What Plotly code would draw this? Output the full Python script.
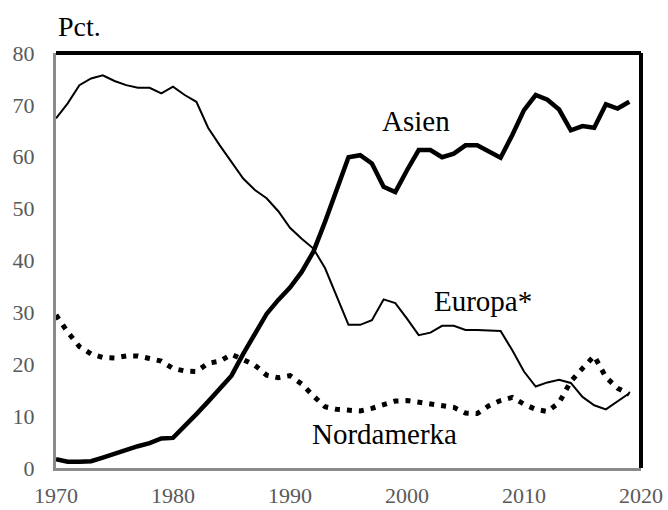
import plotly.graph_objects as go

years = list(range(1970, 2020))

asien = [1.7, 1.2, 1.2, 1.3, 2.0, 2.8, 3.6, 4.2, 4.8, 5.7,
         5.8, 8.0, 10.4, 12.8, 15.3, 17.8, 22.0, 25.8, 29.7, 32.4,
         34.8, 37.8, 41.7, 47.5, 54.0, 59.9, 60.3, 58.7, 54.2, 53.2,
         57.4, 61.3, 61.3, 59.9, 60.6, 62.2, 62.2, 60.9, 59.8, 64.2,
         69.0, 71.9, 71.0, 69.1, 65.1, 65.9, 65.6, 70.1, 69.3, 70.6]

europa = [67.4, 70.3, 73.8, 75.1, 75.7, 74.6, 73.8, 73.3, 73.3, 72.2,
          73.5, 71.9, 70.6, 65.6, 62.2, 59.0, 55.8, 53.6, 52.0, 49.5,
          46.3, 44.2, 42.3, 38.5, 33.0, 27.6, 27.6, 28.5, 32.5, 31.8,
          28.8, 25.6, 26.1, 27.4, 27.4, 26.6, 26.6, 26.5, 26.4, 22.7,
          18.6, 15.7, 16.5, 17.0, 16.4, 13.7, 12.1, 11.3, 12.8, 14.4]

nordamerika = [29.5, 26.2, 23.4, 22.0, 21.3, 21.2, 21.6, 21.6, 21.1, 20.6,
               19.2, 18.7, 18.6, 20.2, 20.6, 21.9, 20.9, 19.8, 17.9, 17.4,
               17.8, 16.2, 13.9, 11.8, 11.3, 11.2, 11.0, 11.5, 12.2, 12.9,
               13.0, 12.7, 12.4, 12.2, 11.7, 10.6, 10.5, 12.0, 13.0, 13.6,
               12.3, 11.3, 10.9, 12.6, 16.7, 19.2, 21.6, 17.5, 15.4, 14.2]

x_ticks = [1970, 1980, 1990, 2000, 2010, 2020]
y_ticks = [0, 10, 20, 30, 40, 50, 60, 70, 80]

serif = "Liberation Serif, Times New Roman, serif"

fig = go.Figure()
fig.add_trace(go.Scatter(x=years, y=europa, mode="lines", name="Europa*",
                         line=dict(color="black", width=2)))
fig.add_trace(go.Scatter(x=years, y=nordamerika, mode="lines", name="Nordamerka",
                         line=dict(color="black", width=5, dash="5px,7px")))
fig.add_trace(go.Scatter(x=years, y=asien, mode="lines", name="Asien",
                         line=dict(color="black", width=4.5)))

fig.update_layout(
    width=668, height=510,
    margin=dict(l=56, r=27, t=53, b=42),
    paper_bgcolor="white", plot_bgcolor="white",
    showlegend=False,
    font=dict(family=serif, color="#595959", size=22),
    xaxis=dict(range=[1970, 2020], tickvals=x_ticks, showgrid=False,
               zeroline=False, showline=True, linecolor="#8a8a8a", linewidth=3,
               ticks="", ticklabelstandoff=6, automargin=False,
               tickfont=dict(size=22, color="#595959")),
    yaxis=dict(range=[0, 80], tickvals=y_ticks, showgrid=False,
               zeroline=False, showline=True, linecolor="#8a8a8a", linewidth=3,
               ticks="", ticklabelstandoff=14, automargin=False,
               tickfont=dict(size=22, color="#595959")),
    shapes=[
        dict(type="line", xref="paper", yref="paper", x0=0, x1=1, y0=1, y1=1,
             line=dict(color="black", width=4)),
        dict(type="line", xref="paper", yref="paper", x0=1, x1=1, y0=0, y1=1,
             line=dict(color="black", width=4)),
    ],
    annotations=[
        dict(text="Asien", x=1997.7, y=66.8, xref="x", yref="y", xanchor="left",
             yanchor="middle", showarrow=False, font=dict(size=29, color="black", family=serif)),
        dict(text="Europa*", x=2002.1, y=32.2, xref="x", yref="y", xanchor="left",
             yanchor="middle", showarrow=False, font=dict(size=29, color="black", family=serif)),
        dict(text="Nordamerka", x=1991.7, y=6.6, xref="x", yref="y", xanchor="left",
             yanchor="middle", showarrow=False, font=dict(size=29, color="black", family=serif)),
        dict(text="Pct.", x=0, y=1.063, xref="paper", yref="paper", xanchor="left",
             yanchor="middle", showarrow=False, font=dict(size=28, color="black", family=serif)),
    ],
)

fig.write_html("out.html", config={"displayModeBar": False},
               post_script="document.body.style.margin='0';")
